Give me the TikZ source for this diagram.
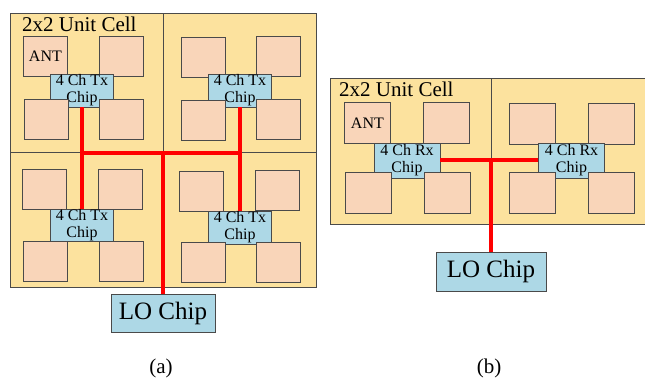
\documentclass[tikz,border=0pt]{standalone}
\usepackage{fontspec}
\setmainfont{Liberation Serif}
\usetikzlibrary{positioning}
\definecolor{cellfill}{HTML}{FCE29E}
\definecolor{antfill}{HTML}{F9D5B9}
\definecolor{chipfill}{HTML}{ADD8E6}
\definecolor{edge}{HTML}{4A4A4A}

\begin{document}
\begin{tikzpicture}[x=1pt, y=-1pt,
  cell/.style={draw=edge, fill=cellfill, line width=0.8pt, anchor=north west, inner sep=0pt, outer sep=0pt},
  ant/.style={draw=edge, fill=antfill, line width=0.8pt, anchor=north west, inner sep=0pt, minimum width=44pt, minimum height=40pt, font=\fontsize{16}{18}\selectfont},
  antb/.style={ant, minimum width=46pt, minimum height=41pt},
  chip/.style={draw=edge, fill=chipfill, line width=0.8pt, inner sep=0pt, align=center, minimum width=63pt, minimum height=33pt, font=\fontsize{16}{17}\selectfont},
  chipb/.style={chip, minimum width=66pt, minimum height=35pt},
  lochip/.style={draw=edge, fill=chipfill, line width=0.8pt, inner sep=0pt, font=\fontsize{25}{28}\selectfont},
  rf/.style={red, line width=4pt},
  lbl/.style={font=\fontsize{21}{24}\selectfont, inner sep=0pt}]
\useasboundingbox (0,0) rectangle (645,378);

% (a) four unit cells with Tx chips
\node[cell, minimum width=153pt, minimum height=139pt] (a1) at (10,13) {};
\node[cell, minimum width=153pt, minimum height=139pt] (a2) at (163,13) {};
\node[cell, minimum width=153pt, minimum height=135pt] (a3) at (10,152) {};
\node[cell, minimum width=153pt, minimum height=135pt] (a4) at (163,152) {};
\node[lbl, anchor=base west] (titlea) at (22,31) {2x2 Unit Cell};

\node[ant] (ant1) at (23,36) {ANT};
\foreach \x/\y in {99/36, 181/37, 256/36, 22/169, 98/169, 179/171, 255/170}
  \node[ant] at (\x,\y) {};
\node[chip] (c1) at (82,90.5) {4 Ch Tx\\Chip};
\node[chip] (c2) at (240,90.5) {4 Ch Tx\\Chip};
\node[chip, minimum height=32pt] (c3) at (82,225) {4 Ch Tx\\Chip};
\node[chip] (c4) at (240,227.5) {4 Ch Tx\\Chip};
\foreach \x/\y in {24/99, 99/99, 181/100, 256/99, 23/241, 99/241, 181/242, 256/242}
  \node[ant] at (\x,\y) {};

\node[lochip, minimum width=104pt, minimum height=38pt] (loa) at (163,313) {LO Chip};
\coordinate (ja) at (163,153);
\draw[rf] (c1.south) -- (c3.north);
\draw[rf] (c2.south) -- (c4.north);
\draw[rf] (c1 |- ja) -- (c2 |- ja);
\draw[rf] (ja) -- (loa.north);

% (b) two unit cells with Rx chips
\node[cell, minimum width=161pt, minimum height=146pt] (b1) at (330,78) {};
\node[cell, minimum width=160pt, minimum height=146pt] (b2) at (491,78) {};
\node[lbl, anchor=base west] (titleb) at (339,96) {2x2 Unit Cell};

\node[antb] (ant2) at (344,102) {ANT};
\foreach \x/\y in {423/102, 509/103, 588/103}
  \node[antb] at (\x,\y) {};
\node[chipb] (d1) at (407,160.5) {4 Ch Rx\\Chip};
\node[chipb] (d2) at (571.5,160.5) {4 Ch Rx\\Chip};
\foreach \x/\y in {345/172, 424/172, 509/172, 588/172}
  \node[antb] at (\x,\y) {};

\node[lochip, minimum width=110pt, minimum height=39pt] (lob) at (491,271.5) {LO Chip};
\coordinate (jb) at (491,160);
\draw[rf] (d1.east |- jb) -- (d2.west |- jb);
\draw[rf] (jb) -- (lob.north);

\node[lbl, anchor=base] (capa) at (161,373) {(a)};
\node[lbl, anchor=base] (capb) at (489,373) {(b)};
\end{tikzpicture}
\end{document}
